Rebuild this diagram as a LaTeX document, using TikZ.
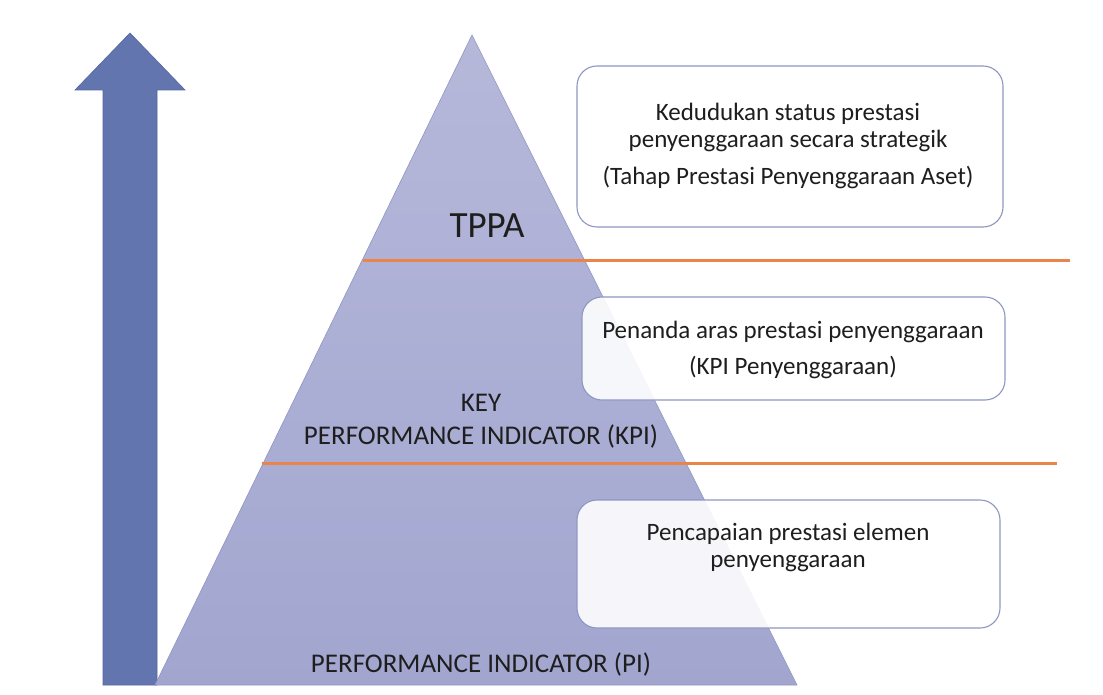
\documentclass[tikz,border=0pt]{standalone}
\usepackage{fontspec}
\setmainfont{Carlito}
\definecolor{arrowblue}{HTML}{6275AF}
\definecolor{arrowedge}{HTML}{5567A0}
\definecolor{triTop}{HTML}{B6B8DA}
\definecolor{triBot}{HTML}{A2A6CF}
\definecolor{triEdge}{HTML}{9094C2}
\definecolor{rule}{HTML}{E9844A}
\definecolor{boxedge}{HTML}{8E97C2}
\definecolor{ink}{HTML}{1E1E1E}
\begin{document}
\begin{tikzpicture}[x=1pt,y=-1pt,
  infobox/.style={draw=boxedge, line width=1.1pt, fill=white, fill opacity=0.9,
    rounded corners=20pt, inner sep=0pt},
  boxtext/.style={text=ink, align=center, inner sep=0pt,
    font=\fontsize{25}{27}\selectfont},
  leveltext/.style={text=ink, align=center, inner sep=0pt,
    font=\fontsize{27}{33}\selectfont},
  divider/.style={draw=rule, line width=3pt}]
% canvas
\path[fill=white] (0,0) rectangle (1103,695);
\useasboundingbox (0,0) rectangle (1103,695);

% upward arrow
\path[fill=arrowblue, draw=arrowedge, line width=0.6pt]
  (130,33) -- (185,90) -- (157,90) -- (157,685) -- (103,685) -- (103,90) -- (75,90) -- cycle;

% pyramid
\shade[top color=triTop, bottom color=triBot, draw=triEdge, line width=0.6pt]
  (472,35) -- (797,685) -- (155,685) -- cycle;

% level dividers
\coordinate (d1a) at (363,260);
\coordinate (d1b) at (1070,260);
\coordinate (d2a) at (262,463);
\coordinate (d2b) at (1057,463);
\draw[divider] (d1a) -- (d1b);
\draw[divider] (d2a) -- (d2b);

% level labels on the pyramid
\node[text=ink, inner sep=0pt, font=\fontsize{37}{40}\selectfont] (tppa) at (487,226) {TPPA};
\node[leveltext] (kpi) at (481,421) {KEY\\PERFORMANCE INDICATOR (KPI)};
\node[leveltext] (pi) at (481,664) {PERFORMANCE INDICATOR (PI)};

% description boxes
\node[infobox, minimum width=426pt, minimum height=161pt] (box1) at (790,146.5) {};
\node[infobox, minimum width=423pt, minimum height=103pt] (box2) at (793.5,348.5) {};
\node[infobox, minimum width=423pt, minimum height=128pt] (box3) at (788.5,564) {};

\node[boxtext] (t1) at (788,146) {Kedudukan status prestasi\\penyenggaraan secara strategik\\[10pt](Tahap Prestasi Penyenggaraan Aset)};
\node[boxtext] (t2) at (793,350) {Penanda aras prestasi penyenggaraan\\[9pt](KPI Penyenggaraan)};
\node[boxtext] (t3) at (788,547) {Pencapaian prestasi elemen\\penyenggaraan};
\end{tikzpicture}
\end{document}
